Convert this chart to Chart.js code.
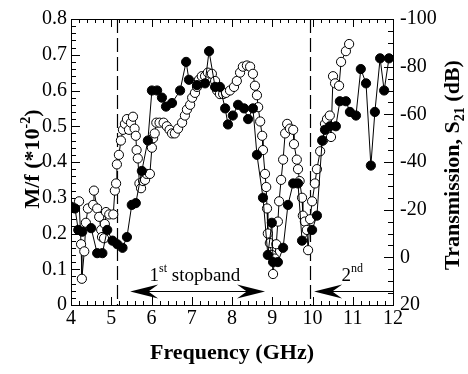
<!DOCTYPE html>
<html>
<head>
<meta charset="utf-8">
<script src="https://cdn.jsdelivr.net/npm/chart.js@4.4.0/dist/chart.umd.min.js"></script>
<style>
    html, body { margin: 0; padding: 0; background: #fff; }
    #wrap { width: 468px; height: 374px; }
</style>
</head>
<body>
<div id="wrap"><canvas id="chart" width="468" height="374"></canvas></div>
<script>
// filled circles, M/f (*10^-2), left axis
const filledFreq = [4.0, 4.1, 4.18, 4.28, 4.5, 4.65, 4.78, 4.9, 5.03, 5.15, 5.28, 5.39, 5.51, 5.61, 5.76, 5.91,
    6.01, 6.14, 6.26, 6.36, 6.51, 6.71, 6.86, 6.93, 7.13, 7.33, 7.43, 7.58, 7.7, 7.83, 7.9, 8.02, 8.15, 8.3,
    8.4, 8.52, 8.62, 8.77, 8.89, 8.99, 9.02, 9.14, 9.27, 9.39, 9.52, 9.64, 9.74, 9.99, 10.11, 10.24, 10.31,
    10.43, 10.58, 10.68, 10.83, 10.93, 11.08, 11.2, 11.33, 11.45, 11.55, 11.68, 11.78, 11.9];
const filledMf = [0.275, 0.27, 0.21, 0.205, 0.215, 0.145, 0.145, 0.21, 0.18, 0.17, 0.16, 0.19, 0.28, 0.285, 0.375, 0.46,
    0.60, 0.60, 0.58, 0.555, 0.565, 0.60, 0.68, 0.63, 0.615, 0.62, 0.71, 0.61, 0.61, 0.55, 0.505, 0.53, 0.56, 0.55,
    0.52, 0.55, 0.42, 0.30, 0.14, 0.23, 0.12, 0.12, 0.16, 0.28, 0.34, 0.34, 0.18, 0.21, 0.25, 0.46, 0.49,
    0.50, 0.50, 0.57, 0.57, 0.54, 0.53, 0.66, 0.62, 0.39, 0.54, 0.69, 0.60, 0.69];

// open circles, transmission S21 (dB), right axis
const openFreq = [4.2, 4.25, 4.27, 4.33, 4.37, 4.42, 4.55, 4.57, 4.65, 4.7, 4.75, 4.77, 4.82, 4.84, 4.87, 4.95,
    5.05, 5.09, 5.12, 5.14, 5.19, 5.24, 5.29, 5.34, 5.39, 5.44, 5.49, 5.54, 5.58, 5.61, 5.63, 5.66, 5.7, 5.74,
    5.79, 5.84, 5.88, 5.96, 6.01, 6.04, 6.08, 6.12, 6.2, 6.3, 6.38, 6.45, 6.51, 6.58, 6.66, 6.76, 6.83, 6.88,
    6.96, 7.01, 7.08, 7.13, 7.18, 7.25, 7.33, 7.4, 7.5, 7.58, 7.63, 7.7, 7.78, 7.85, 7.95, 8.05, 8.12, 8.2,
    8.27, 8.37, 8.45, 8.52, 8.57, 8.62, 8.65, 8.7, 8.75, 8.77, 8.82, 8.85, 8.87, 8.89, 8.94, 8.99, 9.02, 9.06,
    9.1, 9.14, 9.17, 9.22, 9.27, 9.32, 9.37, 9.44, 9.52, 9.54, 9.61, 9.64, 9.68, 9.74, 9.76, 9.81, 9.86, 9.89,
    9.94, 9.99, 10.06, 10.11, 10.19, 10.26, 10.31, 10.36, 10.43, 10.46, 10.51, 10.56, 10.66, 10.71, 10.83, 10.91];
const openDb = [-23.5, -5.5, 9, -2.5, -14.5, -20.5, -22, -28, -20.5, -17, -11.5, -8.5, -8, -14, -19, -18,
    -18, -28, -31, -39, -43, -49, -53.5, -56, -58, -53.5, -56.5, -59, -54, -51, -45, -41.5, -31, -29,
    -32, -32.5, -35, -35, -46, -50, -52, -56.5, -56.5, -56.5, -55, -53.5, -52, -52, -54, -56.5, -59.5, -62,
    -64, -67, -69, -71.5, -74.5, -76, -76, -77.5, -77, -74, -70, -68.5, -68.5, -69, -70, -71.5, -74, -77.5,
    -80, -80.5, -80, -77, -72, -68, -63, -57, -51, -45, -35, -29.5, -20.5, -10, -6, -1, 7, 0.5,
    -5.5, -15, -23.5, -32.5, -41, -52, -56, -54, -53.5, -47.5, -41, -37, -32, -25, -17.5, -15, -11.5, -3,
    -16, -23.5, -31, -37, -44.5, -49, -56, -58, -59.5, -50.5, -76, -73, -72, -82, -86.5, -89.5];

const xTicks = [4, 5, 6, 7, 8, 9, 10, 11, 12];
const mfTicks = [0, 0.1, 0.2, 0.3, 0.4, 0.5, 0.6, 0.7, 0.8];
const dbTicks = [-100, -80, -60, -40, -20, 0, 20];

const stopbandEdges = [5.15, 9.95];
const band1Arrow = [5.47, 8.82];
const band2Arrow = [10.04, 12];
const arrowLevel = 0.04;
const band1Label = [5.95, 0.066];
const band2Label = [10.72, 0.066];

const SERIF = '"Liberation Serif", "Times New Roman", serif';

function line(ctx, x1, y1, x2, y2) {
    ctx.beginPath();
    ctx.moveTo(x1, y1);
    ctx.lineTo(x2, y2);
    ctx.stroke();
}

function arrowHead(ctx, tipX, y, dir) {
    const L = 28, H = 7;
    ctx.beginPath();
    ctx.moveTo(tipX, y);
    ctx.lineTo(tipX - dir * L, y - H);
    ctx.lineTo(tipX - dir * L * 0.65, y);
    ctx.lineTo(tipX - dir * L, y + H);
    ctx.closePath();
    ctx.fill();
}

// draws text pieces in sequence: [text, size, shift]
function richText(ctx, parts, x, y, bold) {
    let cx = x;
    parts.forEach(([t, size, shift]) => {
        ctx.font = (bold ? 'bold ' : '') + size + 'px ' + SERIF;
        ctx.fillText(t, cx, y + shift);
        cx += ctx.measureText(t).width;
    });
}

function richWidth(ctx, parts, bold) {
    let w = 0;
    parts.forEach(([t, size]) => {
        ctx.font = (bold ? 'bold ' : '') + size + 'px ' + SERIF;
        w += ctx.measureText(t).width;
    });
    return w;
}

const framePlugin = {
    id: 'frame',
    beforeDatasetsDraw(chart) {
        const ctx = chart.ctx;
        const { left, right, top, bottom } = chart.chartArea;
        const xs = chart.scales.x, ys = chart.scales.y, y2s = chart.scales.y2;
        ctx.save();
        ctx.strokeStyle = '#000';
        ctx.lineWidth = 1;

        for (let i = 0; i <= 40; i++) {
            const px = Math.round(xs.getPixelForValue(4 + i * 0.2)) + 0.5;
            const len = i % 5 === 0 ? 8 : 4;
            line(ctx, px, bottom, px, bottom - len);
            line(ctx, px, top, px, top + len);
        }
        for (let i = 0; i <= 40; i++) {
            const py = Math.round(ys.getPixelForValue(i * 0.02)) + 0.5;
            line(ctx, left, py, left + (i % 5 === 0 ? 9 : 5), py);
        }
        for (let i = 0; i <= 24; i++) {
            const py = Math.round(y2s.getPixelForValue(-100 + i * 5)) + 0.5;
            line(ctx, right, py, right - (i % 4 === 0 ? 9 : 5), py);
        }
        line(ctx, left, top + 0.5, right, top + 0.5);

        // stopband edges
        ctx.setLineDash([14, 5]);
        ctx.lineWidth = 1.2;
        stopbandEdges.forEach(f => {
            const px = Math.round(xs.getPixelForValue(f)) + 0.5;
            line(ctx, px, top, px, bottom);
        });
        ctx.restore();
    },
    afterDraw(chart) {
        const ctx = chart.ctx;
        const { left, right, top, bottom } = chart.chartArea;
        const xs = chart.scales.x, ys = chart.scales.y;
        ctx.save();
        ctx.fillStyle = '#000';
        ctx.strokeStyle = '#000';
        ctx.lineWidth = 1;

        // arrows
        const ay = Math.round(ys.getPixelForValue(arrowLevel)) + 0.5;
        const a1 = xs.getPixelForValue(band1Arrow[0]), a2 = xs.getPixelForValue(band1Arrow[1]);
        line(ctx, a1 + 10, ay, a2 - 10, ay);
        arrowHead(ctx, a1, ay, -1);
        arrowHead(ctx, a2, ay, 1);
        const b1 = xs.getPixelForValue(band2Arrow[0]), b2 = xs.getPixelForValue(band2Arrow[1]);
        line(ctx, b1 + 10, ay, b2, ay);
        arrowHead(ctx, b1, ay, -1);

        // stopband labels
        ctx.textBaseline = 'alphabetic';
        ctx.textAlign = 'left';
        richText(ctx, [['1', 19, 0], ['st', 12, -9], [' stopband', 19, 0]],
            xs.getPixelForValue(band1Label[0]), ys.getPixelForValue(band1Label[1]), false);
        richText(ctx, [['2', 19, 0], ['nd', 12, -9]],
            xs.getPixelForValue(band2Label[0]), ys.getPixelForValue(band2Label[1]), false);

        // x title
        ctx.textAlign = 'center';
        ctx.font = 'bold 22px ' + SERIF;
        ctx.fillText('Frequency (GHz)', (left + right) / 2, 359);

        // left title (rotated)
        ctx.textAlign = 'left';
        const lParts = [['M/f (*10', 22, 0], ['-2', 14, -9], [')', 22, 0]];
        const lw = richWidth(ctx, lParts, true);
        ctx.save();
        ctx.translate(39, (top + bottom) / 2 - 3);
        ctx.rotate(-Math.PI / 2);
        richText(ctx, lParts, -lw / 2, 0, true);
        ctx.restore();

        // right title (rotated)
        const rParts = [['Transmission, S', 22, 0], ['21', 14, 5], [' (dB)', 22, 0]];
        const rw = richWidth(ctx, rParts, true);
        ctx.save();
        ctx.translate(459, (top + bottom) / 2 + 3);
        ctx.rotate(-Math.PI / 2);
        richText(ctx, rParts, -rw / 2, 0, true);
        ctx.restore();

        ctx.restore();
    }
};

const tickFont = { family: SERIF, size: 20 };

new Chart(document.getElementById('chart'), {
    type: 'scatter',
    data: {
        datasets: [
            {
                label: 'M/f',
                data: filledFreq.map((f, i) => ({ x: f, y: filledMf[i] })),
                yAxisID: 'y',
                showLine: true,
                borderColor: '#000',
                borderWidth: 1,
                pointRadius: 4.6,
                pointBackgroundColor: '#000',
                pointBorderColor: '#000',
                pointBorderWidth: 1
            },
            {
                label: 'S21',
                data: openFreq.map((f, i) => ({ x: f, y: openDb[i] })),
                yAxisID: 'y2',
                showLine: true,
                borderColor: '#000',
                borderWidth: 1,
                pointRadius: 4.6,
                pointBackgroundColor: '#fff',
                pointBorderColor: '#000',
                pointBorderWidth: 1
            }
        ]
    },
    options: {
        responsive: false,
        animation: false,
        layout: { padding: { top: 15, left: 0, right: 0, bottom: 0 } },
        plugins: { legend: { display: false }, tooltip: { enabled: false } },
        scales: {
            x: {
                type: 'linear', min: 4, max: 12,
                afterFit: s => { s.height = 69; },
                afterBuildTicks: s => { s.ticks = xTicks.map(v => ({ value: v })); },
                grid: { display: false, drawTicks: false },
                border: { display: true, color: '#000', width: 1 },
                ticks: { color: '#000', font: tickFont, padding: 2, maxRotation: 0 }
            },
            y: {
                type: 'linear', position: 'left', min: 0, max: 0.8,
                afterFit: s => { s.width = 71; },
                afterBuildTicks: s => { s.ticks = mfTicks.map(v => ({ value: v })); },
                grid: { display: false, drawTicks: false },
                border: { display: true, color: '#000', width: 1 },
                ticks: { color: '#000', font: tickFont, padding: 4, callback: v => v === 0 ? '0' : v.toFixed(1) }
            },
            y2: {
                type: 'linear', position: 'right', min: -100, max: 20, reverse: true,
                afterFit: s => { s.width = 75; },
                afterBuildTicks: s => { s.ticks = dbTicks.map(v => ({ value: v })); },
                grid: { display: false, drawTicks: false },
                border: { display: true, color: '#000', width: 1 },
                ticks: { color: '#000', font: tickFont, padding: 7 }
            }
        }
    },
    plugins: [framePlugin]
});
</script>
</body>
</html>
